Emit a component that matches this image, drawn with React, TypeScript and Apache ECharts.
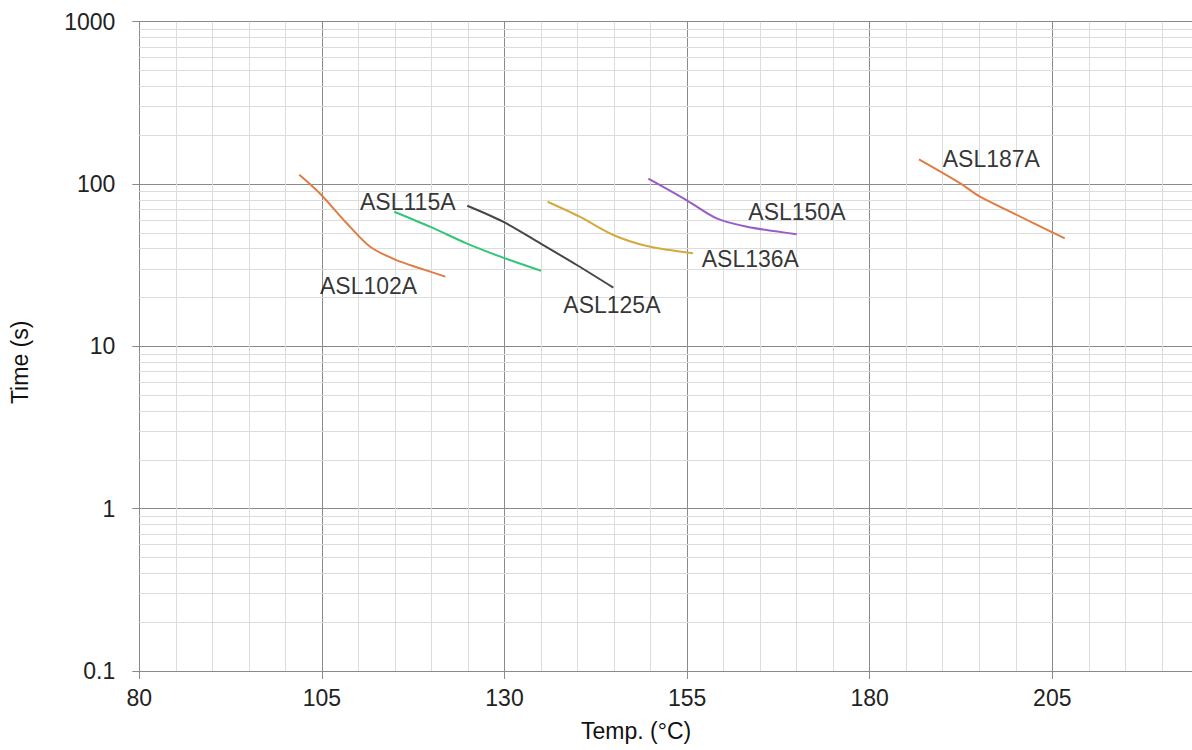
import React, { useEffect, useRef } from "react";
import * as echarts from "echarts";

// ---- data ----
const xTicks = [80, 105, 130, 155, 180, 205];
const yDecades = [0.1, 1, 10, 100];
const minorMultipliers = [2, 3, 4, 5, 6, 7, 8, 9];

const seriesNames = ["ASL102A", "ASL115A", "ASL125A", "ASL136A", "ASL150A", "ASL187A"];

const temp102 = [101.9, 104.7, 108.4, 111.6, 115.2, 118.4, 121.9];
const time102 = [114, 87.7, 57.3, 41.1, 34.0, 30.3, 26.9];

const temp115 = [114.9, 119.8, 124.8, 129.8, 135.0];
const time115 = [67.5, 54.6, 43.1, 35.2, 29.2];

const temp125 = [124.9, 129.8, 134.9, 139.9, 144.9];
const time125 = [73.5, 58.6, 43.1, 31.7, 23.0];

const temp136 = [135.9, 140.3, 144.9, 149.5, 155.8];
const time136 = [77.8, 62.9, 48.5, 41.5, 37.4];

const temp150 = [149.7, 154.9, 159.05, 163.2, 170.0];
const time150 = [108, 79.7, 61.4, 54.6, 49.0];

const temp187 = [186.75, 192.4, 195.1, 199.7, 205, 206.7];
const time187 = [141.9, 101, 83.5, 66.0, 50.4, 46.3];

// label anchor points (left edge, vertical middle of each label), in data units
const labelTemps = [104.74, 110.22, 138.05, 157.0, 163.38, 190.0];
const labelTimes = [23.5, 77.8, 17.97, 34.4, 67.5, 143.2];

const colors = ["#de7e45", "#33c67a", "#474747", "#d5a93c", "#9a5cc6", "#de7e45"];

const zip = (a: number[], b: number[]) => a.map((v, i) => [v, b[i]]);

export default function App() {
  const ref = useRef<HTMLDivElement>(null);
  useEffect(() => {
    if (!ref.current) return;
    const chart = echarts.init(ref.current, undefined, { renderer: "svg" });
    const lines = [
      zip(temp102, time102),
      zip(temp115, time115),
      zip(temp125, time125),
      zip(temp136, time136),
      zip(temp150, time150),
      zip(temp187, time187),
    ];
    const minorY: number[] = [];
    yDecades.forEach((d) => minorMultipliers.forEach((m) => minorY.push(+(d * m).toPrecision(6))));

    const font = "'Liberation Sans', Arial, sans-serif";
    const major = "#8a8a8a";
    const minor = "#dcdcdc";

    chart.setOption({
      animation: false,
      grid: { left: 139.3, top: 21.7, bottom: 79, right: 5.1, containLabel: false },
      xAxis: {
        type: "value",
        min: xTicks[0],
        max: 230,
        interval: 25,
        name: "Temp. (°C)",
        nameLocation: "middle",
        nameGap: 48,
        nameTextStyle: { fontFamily: font, fontSize: 23, color: "#111", padding: [0, 102, 0, 0] },
        axisLine: { show: true, lineStyle: { color: major, width: 1 } },
        axisTick: { show: true, length: 8, lineStyle: { color: major } },
        axisLabel: { fontFamily: font, fontSize: 23, color: "#222", margin: 15, showMaxLabel: false },
        splitLine: { show: true, lineStyle: { color: major, width: 1 } },
        minorTick: { show: false, splitNumber: 5 },
        minorSplitLine: { show: true, lineStyle: { color: minor, width: 1 } },
      },
      yAxis: {
        type: "log",
        logBase: 10,
        min: 0.1,
        max: 1000,
        name: "Time (s)",
        nameLocation: "middle",
        nameRotate: 90,
        nameGap: 108,
        nameTextStyle: { fontFamily: font, fontSize: 23, color: "#111", padding: [0, 32, 0, 0] },
        axisLine: { show: true, lineStyle: { color: major, width: 1 } },
        axisTick: { show: true, length: 7, lineStyle: { color: major } },
        axisLabel: {
          fontFamily: font,
          fontSize: 23,
          color: "#222",
          margin: 24,
          formatter: (v: number) => String(+v.toPrecision(6)),
        },
        splitLine: { show: true, lineStyle: { color: major, width: 1 } },
      },
      series: [
        {
          type: "line",
          data: [],
          z: 1,
          silent: true,
          markLine: {
            z: 1,
            silent: true,
            symbol: ["none", "none"],
            label: { show: false },
            lineStyle: { color: minor, type: "solid", width: 1 },
            emphasis: { disabled: true },
            data: minorY.map((v) => ({ yAxis: v })),
          },
        },
        ...lines.map((d, i) => ({
          type: "line",
          name: seriesNames[i],
          data: d,
          smooth: 0.3,
          showSymbol: false,
          symbol: "none",
          z: 6,
          lineStyle: { color: colors[i], width: 2 },
          itemStyle: { color: colors[i] },
        })),
        {
          type: "scatter",
          z: 7,
          symbolSize: 0,
          silent: true,
          data: labelTemps.map((t, i) => ({ value: [t, labelTimes[i]], name: seriesNames[i] })),
          label: {
            show: true,
            position: "right",
            distance: 0,
            formatter: (p: any) => p.name,
            fontFamily: font,
            fontSize: 23,
            color: "#000",
          },
        },
      ],
    });
    return () => chart.dispose();
  }, []);
  return (
    <div
      ref={ref}
      style={{ position: "fixed", left: 0, top: 0, width: 1240, height: 750, background: "#fff" }}
    />
  );
}
